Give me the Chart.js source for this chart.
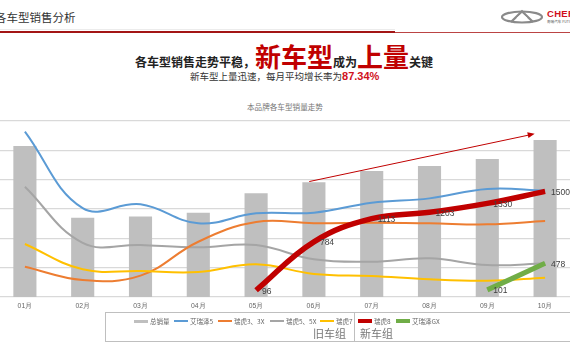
<!DOCTYPE html>
<html>
<head>
<meta charset="utf-8">
<script src="https://cdn.jsdelivr.net/npm/chart.js@4/dist/chart.umd.min.js"></script>
<style>
  html, body { margin:0; padding:0; background:#fff; width:570px; height:360px; overflow:hidden; position:relative;
    font-family:"Noto Sans CJK SC","Noto Sans",sans-serif; }
  .abs { position:absolute; white-space:nowrap; }
  #pageTitle { left:-5px; top:9px; font-size:11.5px; color:#333; }
  #rule1 { left:0; top:31px; width:395px; height:2px; background:#a31515; }
  #rule2 { left:395px; top:31.5px; width:175px; height:1px; background:#b44; }
  #rule0 { left:0; top:29px; width:395px; height:1px; background:#ececec; }
  #head { left:135px; top:37px; font-weight:bold; color:#222; }
  #head .s { font-size:12px; }
  #head .b { font-size:26px; color:#c00000; }
  #sub { left:190px; top:69px; font-size:9.5px; color:#333; }
  #sub b { color:#d0101c; font-family:"Liberation Sans",Arial,sans-serif; font-size:11px; }
  #chartTitle { left:247px; top:101px; font-size:7.6px; color:#777; }
  #cv { position:absolute; left:-4px; top:115px; }
  #legendBox { left:105px; top:312px; width:470px; height:30px; border:1px solid #bfbfbf; box-sizing:border-box; }
  #divider { left:354px; top:312px; width:1px; height:30px; background:#bfbfbf; }
  .lg { position:absolute; top:316px; font-size:6.5px; color:#666; display:flex; align-items:center; }
  .lg i { display:inline-block; width:14px; margin-right:2px; }
  .grp { position:absolute; top:325px; font-size:11px; color:#777; }
  #logo { left:500px; top:9px; }
  #che { left:547px; top:8px; font-family:"Liberation Sans",Arial,sans-serif; font-weight:bold; font-size:9.5px; color:#d0101c; letter-spacing:0.3px; }
  #che2 { left:547px; top:19px; font-size:3.6px; color:#555; }
</style>
</head>
<body>
<div id="pageTitle" class="abs">各车型销售分析</div>
<div id="rule0" class="abs"></div>
<div id="rule1" class="abs"></div>
<div id="rule2" class="abs"></div>
<svg id="logo" class="abs" width="44" height="16" viewBox="0 0 44 16">
  <ellipse cx="22" cy="8" rx="20" ry="5.5" fill="none" stroke="#8a8a8a" stroke-width="2.2"/>
  <path d="M11 13 L22 2.5 L33 13" fill="none" stroke="#8a8a8a" stroke-width="2.4"/>
  <path d="M17 9.5 L22 5 L27 9.5" fill="none" stroke="#fff" stroke-width="1.1"/>
</svg>
<div id="che" class="abs">CHERY</div>
<div id="che2" class="abs">奇瑞汽车 FUTURE</div>

<div id="head" class="abs"><span class="s">各车型销售走势平稳，</span><span class="b">新车型</span><span class="s">成为</span><span class="b">上量</span><span class="s">关键</span></div>
<div id="sub" class="abs">新车型上量迅速，每月平均增长率为<b>87.34%</b></div>
<div id="chartTitle" class="abs">本品牌各车型销量走势</div>

<canvas id="cv" width="578" height="200"></canvas>

<div id="legendBox" class="abs"></div>
<div id="divider" class="abs"></div>
<div id="legend"></div>
<div class="grp" style="left:313px">旧车组</div>
<div class="grp" style="left:360px">新车组</div>

<script>
const months = ['01月','02月','03月','04月','05月','06月','07月','08月','09月','10月'];
const totalSales = [42900, 22500, 22900, 23900, 29500, 32600, 35800, 37200, 39200, 44600];
const arrizo5   = [2350, 1262, 1316, 1047, 1188, 1197, 1339, 1401, 1534, 1510];
const tiggo3    = [430, 241, 303, 785, 1065, 1047, 1055, 1047, 1032, 1079];
const tiggo5    = [1566, 770, 738, 706, 738, 535, 501, 550, 454, 478];
const tiggo7    = [753, 393, 369, 355, 464, 327, 298, 251, 232, 274];
const tiggo8    = [null, null, null, null, 96, 784, 1113, 1203, 1330, 1500];
const arrizoGX  = [null, null, null, null, null, null, null, null, 101, 478];
const seriesNames = ['总销量','艾瑞泽5','瑞虎3、3X','瑞虎5、5X','瑞虎7','瑞虎8','艾瑞泽GX'];
const seriesColors = ['#bfbfbf','#5b9bd5','#ed7d31','#a5a5a5','#ffc000','#c00000','#70ad47'];
// trend arrow anchored in data units (category index, value)
const trendArrow = { from: [4.92, 1640], to: [8.82, 2320] };

const lineDs = (i, data, width, order, labels) => ({
  type: 'line', label: seriesNames[i], data, borderColor: seriesColors[i], backgroundColor: seriesColors[i],
  borderWidth: width, pointRadius: 0, tension: 0.4, order, yAxisID: 'y', spanGaps: false,
  borderCapStyle: 'butt', showValues: labels
});

const valueLabels = {
  id: 'valueLabels',
  afterDatasetsDraw(chart) {
    const ctx = chart.ctx;
    ctx.save();
    ctx.font = '8.5px "Liberation Sans", Arial, sans-serif';
    ctx.fillStyle = '#404040';
    ctx.textAlign = 'left';
    ctx.textBaseline = 'middle';
    chart.data.datasets.forEach((ds, di) => {
      if (!ds.showValues) return;
      const meta = chart.getDatasetMeta(di);
      meta.data.forEach((pt, j) => {
        const v = ds.data[j];
        if (v == null) return;
        ctx.fillText(String(v), pt.x + 6, pt.y + 1);
      });
    });
    // trend arrow
    const xs = chart.scales.x, ys = chart.scales.y;
    const x1 = xs.getPixelForValue(trendArrow.from[0]), y1 = ys.getPixelForValue(trendArrow.from[1]);
    const x2 = xs.getPixelForValue(trendArrow.to[0]), y2 = ys.getPixelForValue(trendArrow.to[1]);
    ctx.strokeStyle = '#c00000'; ctx.fillStyle = '#c00000'; ctx.lineWidth = 1;
    ctx.beginPath(); ctx.moveTo(x1, y1); ctx.lineTo(x2 - 4, y2 + 1); ctx.stroke();
    const a = Math.atan2(y2 - y1, x2 - x1);
    ctx.beginPath();
    ctx.moveTo(x2, y2);
    ctx.lineTo(x2 - 7*Math.cos(a) + 3*Math.sin(a), y2 - 7*Math.sin(a) - 3*Math.cos(a));
    ctx.lineTo(x2 - 7*Math.cos(a) - 3*Math.sin(a), y2 - 7*Math.sin(a) + 3*Math.cos(a));
    ctx.closePath(); ctx.fill();
    ctx.restore();
  }
};

new Chart(document.getElementById('cv'), {
  data: {
    labels: months,
    datasets: [
      { type: 'bar', label: seriesNames[0], data: totalSales, backgroundColor: seriesColors[0],
        barPercentage: 0.8, categoryPercentage: 0.5, order: 10, yAxisID: 'y2' },
      lineDs(1, arrizo5, 2, 5, false),
      lineDs(2, tiggo3, 2, 4, false),
      lineDs(3, tiggo5, 2, 6, false),
      lineDs(4, tiggo7, 2, 3, false),
      lineDs(5, tiggo8, 5.5, 1, true),
      lineDs(6, arrizoGX, 5, 0, true)
    ]
  },
  options: {
    responsive: false, animation: false,
    layout: { padding: { top: 6, left: 0, right: 0, bottom: 0 } },
    plugins: { legend: { display: false }, tooltip: { enabled: false } },
    scales: {
      x: {
        grid: { display: false, drawTicks: false }, border: { display: false },
        ticks: { color: '#666', font: { size: 6.8 }, padding: 5, maxRotation: 0 },
        afterFit(s) { s.height = 18; }
      },
      y: {
        min: 0, max: 2500, position: 'left',
        ticks: { display: false, stepSize: 2500/6 },
        grid: { color: '#d9d9d9', lineWidth: 1.2, drawTicks: false }, border: { display: false },
        afterFit(s) { s.width = 0; }
      },
      y2: {
        min: 0, max: 50000, position: 'right', display: false
      }
    }
  },
  plugins: [valueLabels]
});

// HTML legend built from series arrays
const legendPos = [134, 174, 218, 270, 320, 358, 396];
const legendW = [3, 2, 2, 2, 2, 3.5, 3.5];
const lg = document.getElementById('legend');
seriesNames.forEach((n, i) => {
  const d = document.createElement('div');
  d.className = 'lg';
  d.style.left = legendPos[i] + 'px';
  d.innerHTML = '<i style="height:' + legendW[i] + 'px;background:' + seriesColors[i] + '"></i>' + n;
  lg.appendChild(d);
});
</script>
</body>
</html>
